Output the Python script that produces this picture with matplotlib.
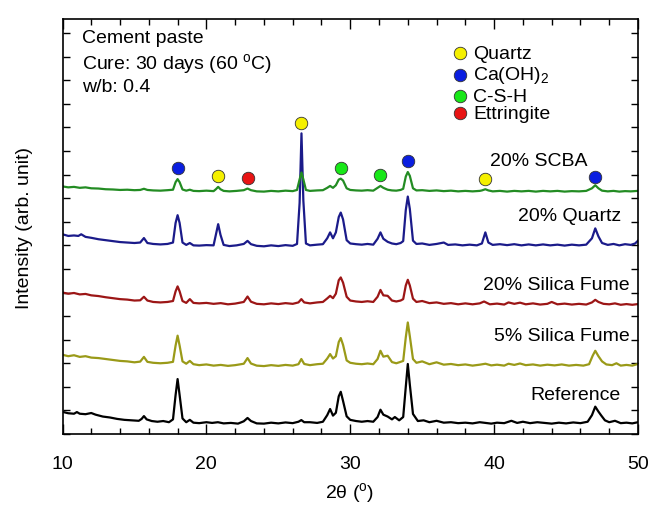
import matplotlib
matplotlib.use("Agg")
import matplotlib.pyplot as plt
from matplotlib.ticker import MultipleLocator, NullFormatter

plt.rcParams['font.family'] = ['Liberation Sans', 'DejaVu Sans']
plt.rcParams['mathtext.fontset'] = 'custom'
plt.rcParams['mathtext.rm'] = 'Liberation Sans'
plt.rcParams['mathtext.it'] = 'Liberation Sans:italic'

# ---- data (2theta, intensity in arbitrary stacked units) ----
reference = [(10.0,0.94),(10.4,0.88),(10.8,0.86),(11.0,0.93),(11.2,0.86),(11.6,0.84),(12.0,0.89),(12.3,0.82),
    (12.8,0.74),(13.3,0.70),(13.8,0.64),(14.3,0.60),(14.8,0.58),(15.3,0.56),(15.5,0.64),(15.66,0.76),(15.85,0.62),
    (16.2,0.55),(16.6,0.52),(17.0,0.55),(17.4,0.50),(17.68,0.62),(17.86,1.65),(18.0,2.33),(18.14,1.65),(18.34,0.66),
    (18.6,0.50),(18.85,0.60),(19.1,0.48),(19.5,0.46),(20.0,0.50),(20.4,0.47),(20.8,0.50),(21.2,0.45),(21.7,0.47),
    (22.2,0.44),(22.6,0.54),(22.86,0.68),(23.1,0.55),(23.5,0.45),(24.0,0.44),(24.5,0.48),(25.0,0.45),(25.5,0.49),
    (26.0,0.46),(26.4,0.52),(26.6,0.59),(26.8,0.50),(27.2,0.50),(27.7,0.47),(28.1,0.52),(28.4,0.80),(28.6,1.06),
    (28.8,0.78),(29.0,0.90),(29.2,1.60),(29.34,1.79),(29.5,1.40),(29.75,0.75),(30.0,0.60),(30.4,0.55),(30.8,0.52),
    (31.2,0.55),(31.6,0.52),(31.9,0.72),(32.1,1.03),(32.3,0.82),(32.6,0.74),(32.9,0.62),(33.1,0.72),(33.4,0.58),
    (33.68,0.72),(33.86,2.00),(34.0,2.97),(34.14,2.10),(34.36,0.85),(34.7,0.55),(35.1,0.58),(35.5,0.50),(36.0,0.56),
    (36.5,0.48),(37.0,0.50),(37.5,0.46),(38.0,0.48),(38.5,0.45),(39.0,0.50),(39.4,0.47),(39.8,0.44),(40.2,0.48),
    (40.7,0.46),(41.2,0.56),(41.6,0.47),(42.0,0.52),(42.5,0.46),(43.0,0.50),(43.5,0.47),(44.0,0.44),(44.5,0.48),
    (45.0,0.45),(45.5,0.49),(46.0,0.46),(46.5,0.52),(46.8,0.80),(47.03,1.16),(47.25,0.95),(47.45,0.78),(47.7,0.58),
    (48.0,0.50),(48.4,0.56),(48.8,0.46),(49.2,0.48),(49.6,0.45),(50.0,0.50)]

silica5 = [(10.0,3.36),(10.4,3.30),(10.8,3.34),(11.2,3.27),(11.6,3.30),(12.0,3.24),(12.5,3.22),(13.0,3.18),
    (13.5,3.14),(14.0,3.10),(14.5,3.08),(15.0,3.04),(15.4,3.07),(15.66,3.27),(15.9,3.06),(16.3,3.02),(16.8,3.00),
    (17.3,3.02),(17.68,3.06),(17.86,3.75),(18.0,4.17),(18.14,3.75),(18.34,3.08),(18.6,2.98),(18.85,3.10),(19.1,2.96),
    (19.5,2.92),(20.0,2.95),(20.5,2.90),(21.0,2.93),(21.5,2.89),(22.0,2.92),(22.6,2.98),(22.86,3.22),(23.1,2.99),
    (23.5,2.90),(24.0,2.88),(24.5,2.92),(25.0,2.89),(25.5,2.93),(26.0,2.90),(26.4,2.96),(26.6,3.18),(26.8,2.97),
    (27.2,2.92),(27.7,2.96),(28.1,2.98),(28.4,3.20),(28.6,3.39),(28.8,3.20),(29.0,3.30),(29.2,3.90),(29.34,4.07),
    (29.5,3.78),(29.75,3.12),(30.0,3.02),(30.4,2.98),(30.8,2.96),(31.2,2.99),(31.6,2.96),(31.9,3.18),(32.1,3.53),
    (32.3,3.28),(32.6,3.32),(32.9,3.05),(33.2,3.00),(33.5,3.06),(33.68,3.10),(33.86,4.10),(34.0,4.73),(34.14,4.15),
    (34.36,3.18),(34.6,3.02),(35.0,3.08),(35.5,2.96),(36.0,3.04),(36.5,2.94),(37.0,2.97),(37.5,2.92),(38.0,2.95),
    (38.5,2.90),(39.0,2.94),(39.4,2.98),(39.8,2.91),(40.2,2.94),(40.7,2.90),(41.0,2.98),(41.4,2.93),(41.8,2.99),
    (42.2,2.92),(42.7,2.95),(43.2,2.90),(43.7,2.94),(44.2,2.91),(44.7,2.95),(45.2,2.90),(45.7,2.93),(46.2,2.90),
    (46.6,2.96),(46.85,3.32),(47.03,3.53),(47.25,3.30),(47.5,3.08),(47.8,2.95),(48.2,2.92),(48.5,3.00),(48.8,2.90),
    (49.2,2.93),(49.6,2.90),(50.0,2.97)]

silica20 = [(10.0,6.00),(10.4,5.95),(10.8,5.98),(11.2,5.92),(11.6,5.94),(12.0,5.88),(12.5,5.85),(13.0,5.80),
    (13.5,5.76),(14.0,5.72),(14.5,5.70),(15.0,5.66),(15.4,5.67),(15.66,5.82),(15.9,5.66),(16.3,5.60),(16.8,5.58),
    (17.3,5.60),(17.68,5.64),(17.86,6.05),(18.0,6.26),(18.14,6.05),(18.34,5.64),(18.6,5.56),(18.85,5.72),(19.1,5.56),
    (19.5,5.54),(20.0,5.56),(20.5,5.52),(21.0,5.55),(21.5,5.50),(22.0,5.53),(22.6,5.60),(22.86,5.83),(23.1,5.61),
    (23.5,5.52),(24.0,5.50),(24.5,5.54),(25.0,5.51),(25.5,5.55),(26.0,5.52),(26.4,5.58),(26.6,5.72),(26.8,5.58),
    (27.2,5.54),(27.7,5.58),(28.1,5.60),(28.4,5.75),(28.6,5.86),(28.8,5.76),(29.0,5.95),(29.2,6.52),(29.34,6.64),
    (29.5,6.42),(29.75,5.82),(30.0,5.66),(30.4,5.62),(30.8,5.60),(31.2,5.63),(31.6,5.60),(31.9,5.82),(32.1,6.11),
    (32.3,5.88),(32.6,5.86),(32.9,5.66),(33.2,5.62),(33.5,5.66),(33.68,5.72),(33.86,6.30),(34.0,6.54),(34.14,6.30),
    (34.36,5.74),(34.6,5.60),(35.0,5.64),(35.5,5.55),(36.0,5.58),(36.5,5.52),(37.0,5.55),(37.5,5.50),(38.0,5.54),
    (38.5,5.50),(39.0,5.54),(39.3,5.62),(39.7,5.50),(40.2,5.53),(40.7,5.49),(41.0,5.58),(41.4,5.52),(41.8,5.57),
    (42.2,5.50),(42.7,5.54),(43.2,5.49),(43.7,5.52),(44.0,5.60),(44.4,5.50),(44.9,5.53),(45.4,5.49),(45.9,5.52),
    (46.4,5.49),(46.8,5.58),(47.03,5.69),(47.25,5.60),(47.6,5.52),(48.0,5.50),(48.4,5.54),(48.8,5.48),(49.2,5.51),
    (49.6,5.48),(50.0,5.51)]

quartz20 = [(10.0,8.47),(10.4,8.40),(10.8,8.42),(11.1,8.40),(11.3,8.47),(11.6,8.36),(12.0,8.32),(12.5,8.26),
    (13.0,8.22),(13.5,8.18),(14.0,8.14),(14.5,8.12),(15.0,8.10),(15.4,8.12),(15.66,8.31),(15.9,8.10),(16.3,8.06),
    (16.8,8.04),(17.3,8.06),(17.68,8.12),(17.86,8.95),(18.0,9.28),(18.14,8.95),(18.34,8.12),(18.6,8.02),(18.85,8.10),
    (19.1,8.00),(19.5,7.99),(20.0,8.01),(20.5,8.00),(20.66,8.45),(20.82,8.90),(20.98,8.45),(21.2,8.02),(21.6,7.97),
    (22.1,8.00),(22.6,8.06),(22.86,8.19),(23.1,8.05),(23.5,7.98),(24.0,7.96),(24.5,8.00),(25.0,7.97),(25.5,8.01),
    (26.0,7.98),(26.3,8.06),(26.48,9.80),(26.61,12.75),(26.74,9.90),(26.92,8.08),(27.2,8.00),(27.7,8.03),(28.1,8.05),
    (28.4,8.30),(28.6,8.55),(28.8,8.30),(29.0,8.55),(29.2,9.20),(29.34,9.39),(29.5,9.10),(29.75,8.22),(30.0,8.08),
    (30.4,8.05),(30.8,8.03),(31.2,8.06),(31.6,8.03),(31.9,8.28),(32.1,8.55),(32.3,8.28),(32.6,8.15),(32.9,8.08),
    (33.2,8.05),(33.5,8.10),(33.68,8.18),(33.86,9.50),(34.0,10.07),(34.14,9.55),(34.36,8.20),(34.6,8.06),(35.0,8.08),
    (35.5,8.02),(36.0,8.06),(36.5,8.12),(36.8,8.02),(37.3,8.04),(37.8,8.00),(38.3,8.03),(38.8,8.00),(39.15,8.08),
    (39.39,8.55),(39.6,8.12),(39.9,8.02),(40.4,8.05),(40.9,8.01),(41.4,8.05),(41.9,8.00),(42.4,8.04),(42.9,8.00),
    (43.4,8.04),(43.9,8.00),(44.4,8.03),(44.9,7.99),(45.4,8.03),(45.9,8.00),(46.4,8.03),(46.8,8.30),(47.03,8.72),
    (47.25,8.38),(47.5,8.10),(47.9,8.02),(48.3,8.06),(48.7,8.00),(49.1,8.05),(49.5,8.02),(49.8,8.08),(50.0,8.20)]

scba20 = [(10.0,10.50),(10.4,10.46),(10.8,10.48),(11.2,10.44),(11.6,10.46),(12.0,10.42),(12.5,10.41),(13.0,10.38),
    (13.5,10.37),(14.0,10.35),(14.5,10.36),(15.0,10.34),(15.4,10.35),(15.66,10.40),(15.9,10.35),(16.3,10.33),
    (16.8,10.32),(17.3,10.34),(17.68,10.36),(17.86,10.68),(18.0,10.81),(18.14,10.68),(18.34,10.37),(18.6,10.32),
    (18.85,10.36),(19.1,10.31),(19.5,10.30),(20.0,10.32),(20.5,10.30),(20.66,10.38),(20.82,10.48),(20.98,10.38),
    (21.2,10.31),(21.6,10.29),(22.1,10.31),(22.6,10.34),(22.86,10.41),(23.1,10.34),(23.5,10.29),(24.0,10.28),
    (24.5,10.31),(25.0,10.29),(25.5,10.32),(26.0,10.30),(26.3,10.35),(26.48,10.80),(26.61,11.09),(26.74,10.80),
    (26.92,10.35),(27.2,10.31),(27.7,10.33),(28.1,10.34),(28.4,10.44),(28.6,10.52),(28.8,10.44),(29.0,10.55),
    (29.2,10.79),(29.34,10.83),(29.5,10.75),(29.75,10.42),(30.0,10.35),(30.4,10.33),(30.8,10.32),(31.2,10.34),
    (31.6,10.32),(31.9,10.44),(32.1,10.52),(32.3,10.44),(32.6,10.36),(32.9,10.33),(33.2,10.32),(33.5,10.35),
    (33.68,10.40),(33.86,10.92),(34.0,11.11),(34.14,10.95),(34.36,10.42),(34.6,10.33),(35.0,10.34),(35.5,10.31),
    (36.0,10.33),(36.5,10.30),(37.0,10.32),(37.5,10.29),(38.0,10.31),(38.5,10.29),(39.0,10.31),(39.15,10.33),
    (39.39,10.38),(39.6,10.33),(39.9,10.29),(40.4,10.31),(40.9,10.28),(41.4,10.31),(41.9,10.29),(42.4,10.31),
    (42.9,10.28),(43.4,10.31),(43.9,10.29),(44.4,10.31),(44.9,10.28),(45.4,10.30),(45.9,10.29),(46.4,10.31),
    (46.8,10.42),(47.03,10.55),(47.25,10.42),(47.5,10.32),(47.9,10.29),(48.3,10.31),(48.7,10.28),(49.1,10.30),
    (49.5,10.29),(50.0,10.31)]

series_names = ['Reference', '5% Silica Fume', '20% Silica Fume', '20% Quartz', '20% SCBA']
series_data = [reference, silica5, silica20, quartz20, scba20]
series_colors = ['#000000', '#9a9a18', '#9c1616', '#1b1b8a', '#238c23']

# phase markers (2theta, y position)
quartz_x = [20.82, 26.61, 39.39]
quartz_y = [10.94, 13.17, 10.81]
caoh_x = [18.0, 34.0, 47.03]
caoh_y = [11.30, 11.58, 10.92]
csh_x = [29.34, 32.1]
csh_y = [11.30, 10.99]
ettr_x = [22.86]
ettr_y = [10.85]

W, H = 651, 510
fig = plt.figure(figsize=(W/100, H/100), dpi=100)
ax = fig.add_axes([62.5/W, 1-435/H, (638-62.5)/W, (435-20)/H])

for data, col in zip(series_data, series_colors):
    xs = [p[0] for p in data]
    ys = [p[1] for p in data]
    ax.plot(xs, ys, color=col, lw=1.6)

mk = dict(ls='none', marker='o', ms=9, mec='#333333', mew=0.6)
ax.plot(quartz_x, quartz_y, mfc='#f5f000', **mk)
ax.plot(caoh_x, caoh_y, mfc='#0a1ee0', **mk)
ax.plot(csh_x, csh_y, mfc='#18e818', **mk)
ax.plot(ettr_x, ettr_y, mfc='#e81414', **mk)

ax.set_xlim(10, 50)
ax.set_ylim(0, 17.6)
ax.xaxis.set_major_locator(MultipleLocator(10))
ax.xaxis.set_minor_locator(MultipleLocator(2))
ax.yaxis.set_major_locator(MultipleLocator(1))
ax.yaxis.set_major_formatter(NullFormatter())
ax.tick_params(axis='both', which='both', direction='in', top=True, right=True, width=1.0)
ax.tick_params(axis='x', which='major', length=7, labelsize=14, pad=15)
ax.tick_params(axis='x', which='minor', length=4)
ax.tick_params(axis='y', which='major', length=5)
for s in ax.spines.values():
    s.set_linewidth(1.2)

fs = 14
fig.text(350/W, 1-493/H, r'2θ ($^{\mathrm{o}}$)', ha='center', va='center', fontsize=fs)
fig.text(25/W, 1-228/H, 'Intensity (arb. unit)', ha='center', va='center', rotation=90, fontsize=fs)

fig.text(81.7/W, 1-39/H, 'Cement paste', ha='left', va='center', fontsize=fs)
fig.text(81.7/W, 1-64/H, r'Cure: 30 days (60 $^{\mathrm{o}}$C)', ha='left', va='center', fontsize=fs)
fig.text(81.7/W, 1-87/H, 'w/b: 0.4', ha='left', va='center', fontsize=fs)

label_pos = [(621, 395), (630, 337), (630, 286), (621.7, 216.7), (588, 161.7)]
for name, (px, py) in zip(series_names, label_pos):
    fig.text(px/W, 1-py/H, name, ha='right', va='center', fontsize=fs)

legend_labels = ['Quartz', r'Ca(OH)$_2$', 'C-S-H', 'Ettringite']
legend_colors = ['#f5f000', '#0a1ee0', '#18e818', '#e81414']
legend_y = [54.3, 75.5, 97.3, 114.3]
for lab, col, py in zip(legend_labels, legend_colors, legend_y):
    fig.lines.append(plt.Line2D([460/W], [1-py/H], transform=fig.transFigure, marker='o', ms=9,
                                mfc=col, mec='#333333', mew=0.6, ls='none'))
    fig.text(473/W, 1-py/H, lab, ha='left', va='center', fontsize=fs)

fig.savefig('out.png', dpi=100)
